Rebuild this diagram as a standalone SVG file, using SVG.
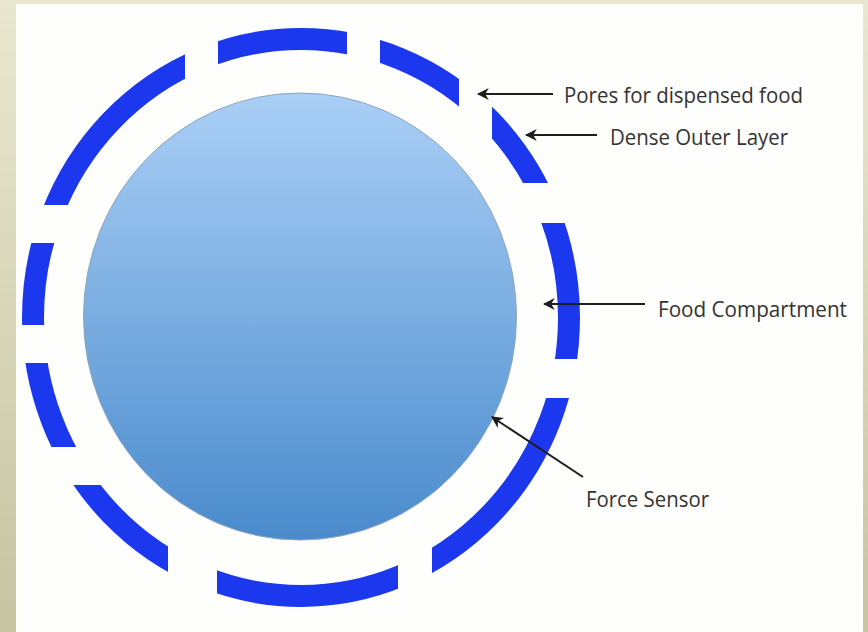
<svg xmlns="http://www.w3.org/2000/svg" width="868" height="632" viewBox="0 0 868 632">
  <defs>
    <linearGradient id="bg" x1="0" y1="0" x2="0" y2="1">
      <stop offset="0" stop-color="#e9e7cf"/>
      <stop offset="1" stop-color="#c7c4a2"/>
    </linearGradient>
    <linearGradient id="fill" x1="0" y1="0" x2="0" y2="1">
      <stop offset="0" stop-color="#aacff6"/>
      <stop offset="1" stop-color="#4a8bcc"/>
    </linearGradient>
    <mask id="gaps" maskUnits="userSpaceOnUse" x="0" y="0" width="868" height="632">
      <rect x="0" y="0" width="868" height="632" fill="#fff"/>
      <g fill="#000">
        <rect x="185" y="0" width="33" height="317"/>
        <rect x="347" y="0" width="33" height="317"/>
        <rect x="459" y="0" width="33" height="317"/>
        <rect x="168" y="317" width="49" height="315"/>
        <rect x="398" y="317" width="34" height="315"/>
        <rect x="301" y="183" width="567" height="40"/>
        <rect x="301" y="359" width="567" height="39"/>
        <rect x="0" y="205" width="301" height="38"/>
        <rect x="0" y="325" width="301" height="38"/>
        <rect x="0" y="447" width="301" height="38"/>
      </g>
    </mask>
    <marker id="arrow" viewBox="0 0 10 10" refX="9" refY="5" markerWidth="6" markerHeight="6" orient="auto" markerUnits="strokeWidth">
      <path d="M0,0 L10,5 L0,10 L3,5 z" fill="#1e1e1e"/>
    </marker>
    <style>
      .lbl { font-family: "Open Sans", "Noto Sans", "Liberation Sans", sans-serif; font-size: 21px; fill: #333333; }
      .conn { stroke: #1e1e1e; stroke-width: 2; fill: none; marker-end: url(#arrow); }
    </style>
  </defs>

  <rect x="0" y="0" width="868" height="632" fill="url(#bg)"/>
  <rect x="16" y="4" width="847" height="628" fill="#fefefc"/>

  <g id="outer-layer">
    <ellipse cx="301" cy="317.5" rx="268" ry="278.5" fill="none" stroke="#1c38ee" stroke-width="22" mask="url(#gaps)"/>
  </g>

  <g id="food-compartment">
    <ellipse cx="300" cy="316.5" rx="216.5" ry="223.5" fill="url(#fill)" stroke="#8ea5bf" stroke-width="1"/>
  </g>

  <g id="connectors">
    <line class="conn" x1="553" y1="94" x2="478" y2="94"/>
    <line class="conn" x1="597" y1="135" x2="526" y2="135"/>
    <line class="conn" x1="645" y1="304" x2="544" y2="304"/>
    <line class="conn" x1="583" y1="477" x2="492" y2="417"/>
  </g>

  <g id="label-pores">
    <text class="lbl" x="564" y="103" textLength="239" lengthAdjust="spacingAndGlyphs">Pores for dispensed food</text>
  </g>
  <g id="label-dense">
    <text class="lbl" x="610" y="145" textLength="178" lengthAdjust="spacingAndGlyphs">Dense Outer Layer</text>
  </g>
  <g id="label-food">
    <text class="lbl" x="658" y="317" textLength="189" lengthAdjust="spacingAndGlyphs">Food Compartment</text>
  </g>
  <g id="label-force">
    <text class="lbl" x="586" y="507" textLength="123" lengthAdjust="spacingAndGlyphs">Force Sensor</text>
  </g>
</svg>
